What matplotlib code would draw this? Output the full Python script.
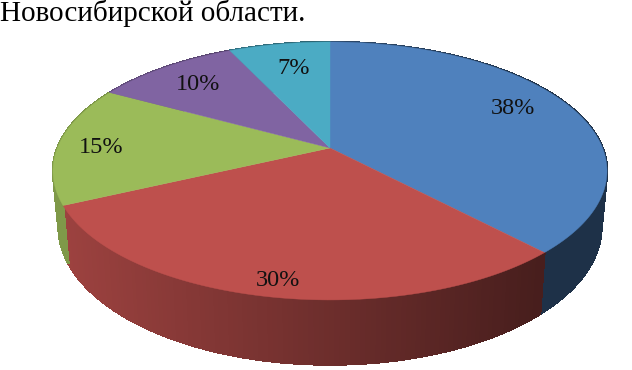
import numpy as np
import matplotlib
matplotlib.use("Agg")
import matplotlib.pyplot as plt

values = [38, 30, 15, 10, 7]
labels = ["38%", "30%", "15%", "10%", "7%"]
colors = ["#4f81bd", "#be504d", "#9bbb59", "#8064a2", "#4babc4"]
label_r = [0.79, 0.90, 0.84, 0.78, 0.74]
label_dt = [-4, -0.5, -1, 0, 1]
title = "Новосибирской области."

# perspective of the pie disc, pixels
cx, cy = 330, 148
persp = 0.178
a = 124.9
d = 272.6


def project(t, r=1.0):
    u = r * np.sin(t)
    v = r * np.cos(t)
    w = 1 + persp * v
    return d * u / w, -a * v / w


def shade(x):
    # side gets darker to the right
    return np.clip(0.82 - 0.44 * (x + 265) / 470, 0.38, 0.82)


fig = plt.figure(figsize=(6.32, 3.7), dpi=100)
ax = fig.add_axes([0, 0, 1, 1])
ax.set_xlim(0, 632)
ax.set_ylim(370, 0)
ax.axis("off")

edges = np.radians(np.cumsum([0] + values) * 3.6)

# side wall
for i, col in enumerate(colors):
    base = np.array(matplotlib.colors.to_rgb(col))
    ts = np.linspace(edges[i], edges[i + 1], max(values[i] * 4, 8))
    for t0, t1 in zip(ts[:-1], ts[1:]):
        x0, y0 = project(t0)
        x1, y1 = project(t1)
        xs = [cx + x0, cx + x1, cx + 0.98 * x1, cx + 0.98 * x0]
        ys = [cy + y0, cy + y1, cy + 54 + 1.07 * y1, cy + 54 + 1.07 * y0]
        c = base * shade((x0 + x1) / 2)
        ax.fill(xs, ys, color=c, lw=1, antialiased=False, zorder=2)

# top of the pie
for i, col in enumerate(colors):
    ts = np.linspace(edges[i], edges[i + 1], 120)
    x, y = project(ts)
    ax.fill(np.r_[cx, cx + x], np.r_[cy, cy + y], color=col, lw=0.3, zorder=3)

for i, lab in enumerate(labels):
    x, y = project((edges[i] + edges[i + 1]) / 2 + np.radians(label_dt[i]), label_r[i])
    ax.text(cx + x, cy + y + 1, lab, ha="center", va="center", fontsize=17.5,
            family="Liberation Serif", color="#111111", zorder=4)

ax.text(0, 21, title, ha="left", va="baseline", fontsize=21,
        family="Liberation Serif", color="black")

fig.savefig("out.png", dpi=100)
